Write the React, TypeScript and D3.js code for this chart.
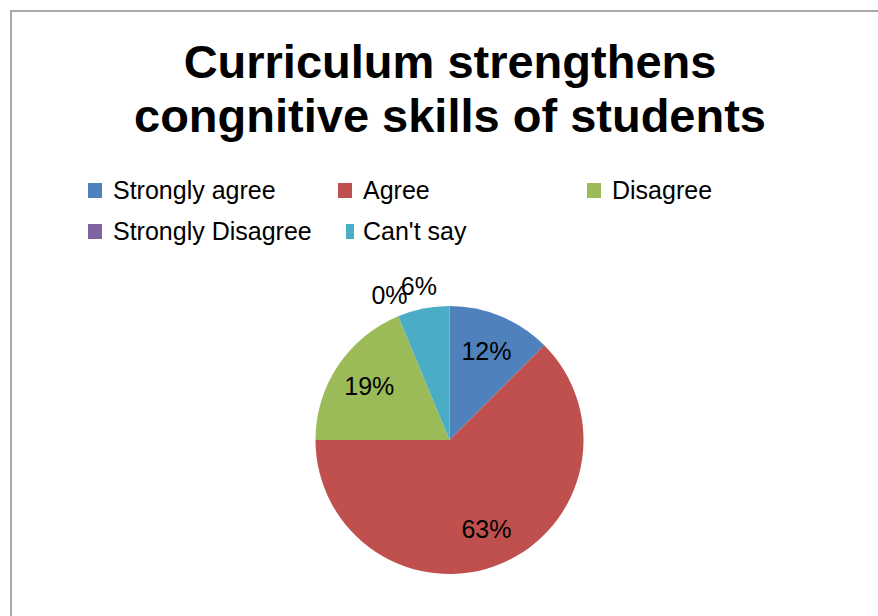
import React from "react";
import * as d3 from "d3";

const titleLines = ["Curriculum strengthens", "congnitive skills of students"];
const categories = ["Strongly agree", "Agree", "Disagree", "Strongly Disagree", "Can't say"];
const values = [12.5, 62.5, 18.75, 0, 6.25];
const valueLabels = ["12%", "63%", "19%", "0%", "6%"];
const colors = ["#4f81bd", "#c0504d", "#9bbb59", "#8064a2", "#4bacc6"];

const W = 878;
const H = 616;
const cx = 449.5;
const cy = 440;
const R = 134;

// legend layout: [column x of square, row index]
const legendCols = [88, 338, 587];
const legendRowY = [190, 231];
const legendSlots = [
  [0, 0],
  [1, 0],
  [2, 0],
  [0, 1],
  [1, 1],
];

export default function App() {
  const pie = d3
    .pie<number>()
    .value((d) => d)
    .sort(null);
  const arcs = pie(values);
  const arc = d3.arc<d3.PieArcDatum<number>>().innerRadius(0).outerRadius(R);
  const inLabelArc = d3.arc<d3.PieArcDatum<number>>().innerRadius(R * 0.72).outerRadius(R * 0.72);
  const outLabelArc = d3.arc<d3.PieArcDatum<number>>().innerRadius(R * 1.17).outerRadius(R * 1.17);
  const font = "'Liberation Sans', Arial, Helvetica, sans-serif";

  return (
    <svg
      width={W}
      height={H}
      style={{ position: "fixed", left: 0, top: 0, background: "#fff" }}
      fontFamily={font}
    >
      <rect x={0} y={0} width={W} height={H} fill="#fff" />
      <rect x={11} y={11} width={W + 20} height={H + 20} fill="none" stroke="#a9a9a9" strokeWidth={2} />
      {titleLines.map((t, i) => (
        <text
          key={t}
          x={450}
          y={78 + i * 54}
          textAnchor="middle"
          fontSize={47}
          fontWeight="bold"
          fill="#000"
        >
          {t}
        </text>
      ))}
      {categories.map((c, i) => {
        const [col, row] = legendSlots[i];
        const x = legendCols[col] + (i === 4 ? 8 : 0);
        const y = legendRowY[row];
        return (
          <g key={c}>
            <rect x={x} y={y - 7} width={i === 4 ? 8 : 14} height={15} fill={colors[i]} />
            <text x={legendCols[col] + 25} y={y} dy="0.35em" fontSize={25} fill="#000">
              {c}
            </text>
          </g>
        );
      })}
      <g transform={`translate(${cx},${cy})`}>
        {arcs.map((a, i) => (
          <path key={categories[i]} d={arc(a) || ""} fill={colors[i]} />
        ))}
        {arcs.map((a, i) => {
          const outside = values[i] < 10;
          const [lx, ly] = outside ? outLabelArc.centroid(a) : inLabelArc.centroid(a);
          return (
            <text
              key={"l" + i}
              x={lx}
              y={ly}
              dy="0.35em"
              textAnchor="middle"
              fontSize={25}
              fill="#000"
            >
              {valueLabels[i]}
            </text>
          );
        })}
      </g>
    </svg>
  );
}
